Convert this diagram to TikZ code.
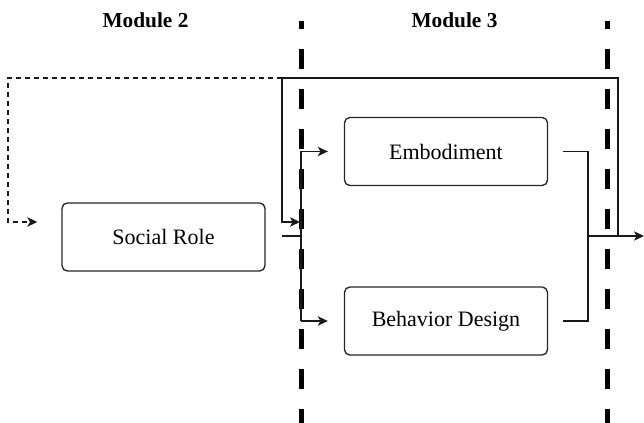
\documentclass[tikz,border=0pt]{standalone}
\usepackage{fontspec}
\setmainfont{Liberation Serif}
\usetikzlibrary{arrows.meta,calc}
\begin{document}
\begin{tikzpicture}[x=0.75pt,y=-0.75pt,
  box/.style={draw=black!85,line width=1pt,rounded corners=4pt,minimum width=152.25pt,minimum height=51pt,inner sep=0pt,font=\fontsize{16.5}{18}\selectfont},
  modlabel/.style={font=\fontsize{16}{18}\selectfont\bfseries,inner sep=0pt},
  conn/.style={line width=1pt,draw=black!90},
  arr/.style={conn,-{Stealth[length=7.5pt,width=7pt,inset=2pt]}},
  divider/.style={line width=3.75pt,dash pattern=on 15pt off 15pt,dash phase=9pt},
  fbdash/.style={dash pattern=on 3.75pt off 3pt}
]
\useasboundingbox (0,0) rectangle (644,423);
% dividers
\draw[divider] (301,21) -- (301,423);
\draw[divider] (607,21) -- (607,423);
% labels
\node[modlabel] (m2) at (145.5,20) {Module 2};
\node[modlabel] (m3) at (454.5,20) {Module 3};
% boxes
\node[box] (social) at (163.5,237) {Social Role};
\node[box] (emb) at (446,151.5) {Embodiment};
\node[box] (beh) at (446,321) {Behavior Design};
% junction coordinates
\coordinate (sout) at (282,236);
\coordinate (jmid) at (301,236);
\coordinate (jtop) at (301,151.5);
\coordinate (jbot) at (301,321);
\coordinate (rtop) at (588,151.5);
\coordinate (rbot) at (588,321);
\coordinate (rmid) at (588,236);
\coordinate (outend) at (644,236);
\coordinate (fbR) at (618,236);
\coordinate (fbRtop) at (618,78);
\coordinate (fbL) at (282,78);
\coordinate (fbLbot) at (282,222);
\coordinate (fbTip) at (300,222);
\coordinate (dL) at (8,78);
\coordinate (dLbot) at (8,222);
% connectors
\draw[conn] (sout) -- (jmid);
\draw[conn] (jtop) -- (jbot);
\draw[arr] (jtop) -- ($(emb.west)+(-16,0)$);
\draw[arr] (jbot) -- ($(beh.west)+(-16,0)$);
\draw[conn] ($(emb.east)+(15,0)$) -- (rtop) -- (rbot) -- ($(beh.east)+(15,0)$);
\draw[arr] (rmid) -- (outend);
\draw[arr] (fbR) -- (fbRtop) -- (fbL) -- (fbLbot) -- (fbTip);
\draw[arr,fbdash] (fbL) -- (dL) -- (dLbot) -- ($(social.west)+(-24,-15)$);
\end{tikzpicture}
\end{document}
